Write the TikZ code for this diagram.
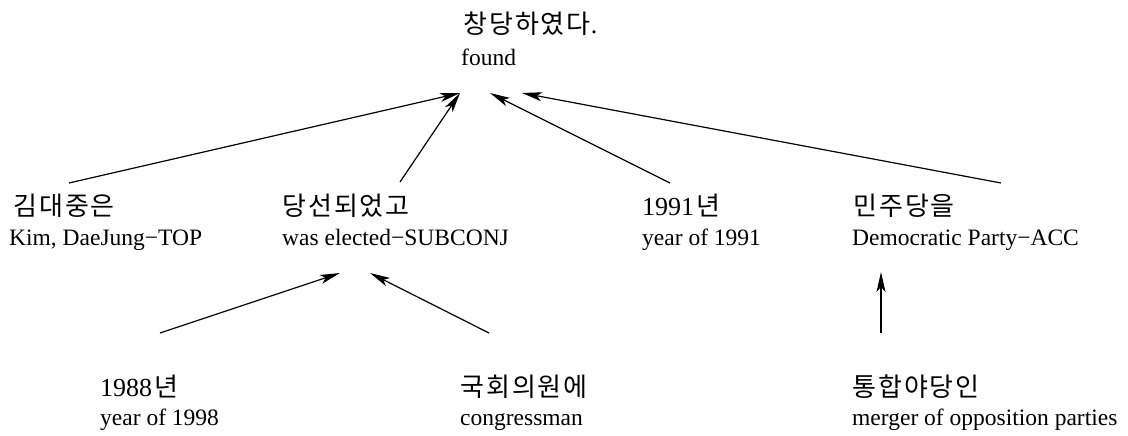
\documentclass[tikz,border=0pt]{standalone}
\usepackage{fontspec}
\setmainfont{Liberation Serif}
\newfontfamily\krfont{Noto Sans CJK KR}
\usetikzlibrary{arrows.meta}
\newcommand\kgap{\kern2pt}
\tikzset{
  krline/.style={anchor=base west, inner sep=0pt, font=\fontsize{26}{30}\selectfont\krfont},
  enline/.style={anchor=base west, inner sep=0pt, font=\fontsize{23.5}{28}\selectfont},
  arr/.style={-{Stealth[length=20pt,width=9pt,inset=5pt]}, line width=1.2pt, black},
}
\begin{document}
\begin{tikzpicture}[x=1pt,y=-1pt]
\useasboundingbox (0,0) rectangle (1128,436);
% top
\node[krline] (topk) at (463,34) {창\kgap 당\kgap 하\kgap 였\kgap 다{\rmfamily.}};
\node[enline] (found) at (461,66) {found};
% level 2
\node[krline] (kimk) at (13,215) {김\kgap 대\kgap 중\kgap 은};
\node[enline] (kim) at (9,245) {Kim, DaeJung−TOP};
\node[krline] (electk) at (282,215) {당\kgap 선\kgap 되\kgap 었\kgap 고};
\node[enline] (elect) at (282,245) {was elected−SUBCONJ};
\node[krline] (yrak) at (642,215) {{\rmfamily 1991}\kgap 년};
\node[enline] (yra) at (642,245) {year of 1991};
\node[krline] (minjuk) at (853,215) {민\kgap 주\kgap 당\kgap 을};
\node[enline] (minju) at (852,245) {Democratic Party−ACC};
% level 3
\node[krline] (yrbk) at (100,396) {{\rmfamily 1988}\kgap 년};
\node[enline] (yrb) at (100,425) {year of 1998};
\node[krline] (congk) at (460,396) {국\kgap 회\kgap 의\kgap 원\kgap 에};
\node[enline] (cong) at (460,425) {congressman};
\node[krline] (tongk) at (852,396) {통\kgap 합\kgap 야\kgap 당\kgap 인};
\node[enline] (tong) at (852,425) {merger of opposition parties};
% arrows to top
\draw[arr] ([shift={(56,-32)}]kimk.base west) -- ([shift={(-1,27)}]found.base west);
\draw[arr] ([shift={(118,-33)}]electk.base west) -- ([shift={(-1,27)}]found.base west);
\draw[arr] ([shift={(28,-32)}]yrak.base west) -- ([shift={(29,27)}]found.base west);
\draw[arr] ([shift={(148,-32)}]minjuk.base west) -- ([shift={(61,27)}]found.base west);
% arrows to level 2
\draw[arr] ([shift={(60,-63)}]yrbk.base west) -- ([shift={(58,28)}]elect.base west);
\draw[arr] ([shift={(29,-63)}]congk.base west) -- ([shift={(88,28)}]elect.base west);
\draw[arr] ([shift={(29,-63)}]tongk.base west) -- ([shift={(29,27)}]minju.base west);
\end{tikzpicture}
\end{document}
